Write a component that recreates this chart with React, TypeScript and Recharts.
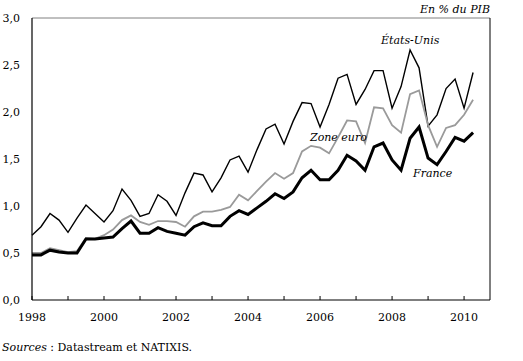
import { Line, LineChart, ReferenceLine, XAxis, YAxis } from "recharts";

const quarters = Array.from({ length: 50 }, (_, i) => 1998 + i / 4);

const etatsUnis = [
  0.69, 0.78, 0.92, 0.85, 0.72, 0.87, 1.01, 0.92, 0.83, 0.95,
  1.18, 1.06, 0.89, 0.92, 1.12, 1.05, 0.9, 1.14, 1.35, 1.33,
  1.15, 1.3, 1.49, 1.53, 1.36, 1.6, 1.82, 1.87, 1.66, 1.9,
  2.1, 2.09, 1.84, 2.08, 2.36, 2.4, 2.08, 2.24, 2.44, 2.44,
  2.04, 2.27, 2.66, 2.47, 1.85, 1.97, 2.25, 2.35, 2.04, 2.42,
];

const zoneEuro = [
  0.5, 0.5, 0.55, 0.53, 0.51, 0.52, 0.66, 0.65, 0.69, 0.75,
  0.85, 0.9, 0.83, 0.8, 0.84, 0.84, 0.83, 0.78, 0.89, 0.94,
  0.94, 0.96, 0.99, 1.12, 1.06, 1.16, 1.26, 1.35, 1.29, 1.35,
  1.58, 1.64, 1.62, 1.56, 1.73, 1.91, 1.9, 1.67, 2.05, 2.04,
  1.86, 1.78, 2.19, 2.23, 1.86, 1.63, 1.83, 1.86, 1.97, 2.13,
];

const france = [
  0.48, 0.48, 0.53, 0.51, 0.5, 0.5, 0.65, 0.65, 0.66, 0.67,
  0.76, 0.84, 0.71, 0.71, 0.77, 0.73, 0.71, 0.69, 0.78, 0.82,
  0.79, 0.79, 0.89, 0.95, 0.91, 0.98, 1.05, 1.13, 1.08, 1.15,
  1.3, 1.38, 1.28, 1.28, 1.38, 1.54, 1.48, 1.38, 1.63, 1.67,
  1.49, 1.38, 1.72, 1.84, 1.51, 1.44, 1.58, 1.73, 1.69, 1.78,
];

const yearTicks = [1998, 1999, 2000, 2001, 2002, 2003, 2004, 2005, 2006, 2007, 2008, 2009, 2010];
const yTicks = [0, 0.5, 1, 1.5, 2, 2.5, 3];
const xMax = 2010.72;

const data = quarters.map((q, i) => ({
  q,
  us: etatsUnis[i],
  euro: zoneEuro[i],
  fr: france[i],
}));

const font = "DejaVu Serif";

const italic = {
  position: "absolute" as const,
  fontFamily: font,
  fontStyle: "italic",
  fontSize: 11,
  color: "#000",
  whiteSpace: "nowrap" as const,
  lineHeight: 1,
};

export default function App() {
  return (
    <div
      style={{
        position: "absolute",
        left: 0,
        top: 0,
        width: 523,
        height: 361,
        background: "#fff",
        fontFamily: font,
      }}
    >
      <LineChart
        data={data}
        height={361}
        margin={{ bottom: 0, left: 0, right: 33, top: 18 }}
        style={{ fontFamily: font }}
        width={523}
      >
        <XAxis
          axisLine={{ stroke: "#000", strokeWidth: 1.2 }}
          dataKey="q"
          domain={[1998, xMax]}
          height={61}
          tick={{ fill: "#000", fontFamily: font, fontSize: 11 }}
          tickFormatter={(v) => (Number(v) % 2 === 0 ? String(v) : "")}
          tickLine={false}
          tickMargin={7}
          ticks={yearTicks}
          type="number"
          xAxisId="x"
        />
        <XAxis
          axisLine={false}
          dataKey="q"
          domain={[1998, xMax]}
          mirror
          tickFormatter={() => ""}
          tickLine={{ stroke: "#000", strokeWidth: 1 }}
          tickSize={4}
          ticks={yearTicks}
          type="number"
          xAxisId="marks"
        />
        <YAxis
          axisLine={{ stroke: "#000", strokeWidth: 1.2 }}
          domain={[0, 3]}
          tick={{ fill: "#000", fontFamily: font, fontSize: 11 }}
          tickFormatter={(v) => Number(v).toFixed(1).replace(".", ",")}
          tickLine={false}
          tickMargin={6}
          ticks={yTicks}
          type="number"
          width={32}
          yAxisId="y"
        />
        <YAxis
          axisLine={false}
          domain={[0, 3]}
          mirror
          tickFormatter={() => ""}
          tickLine={{ stroke: "#000", strokeWidth: 1 }}
          tickSize={4}
          ticks={yTicks}
          type="number"
          yAxisId="ymarks"
        />
        <ReferenceLine stroke="#808080" strokeWidth={1} xAxisId="x" y={3} yAxisId="y" />
        <ReferenceLine stroke="#000" strokeWidth={1} x={xMax} xAxisId="x" yAxisId="y" />
        <Line
          dataKey="us"
          dot={false}
          isAnimationActive={false}
          stroke="#000"
          strokeWidth={1.4}
          type="linear"
          xAxisId="x"
          yAxisId="y"
        />
        <Line
          dataKey="euro"
          dot={false}
          isAnimationActive={false}
          stroke="#9a9a9a"
          strokeWidth={1.8}
          type="linear"
          xAxisId="x"
          yAxisId="y"
        />
        <Line
          dataKey="fr"
          dot={false}
          isAnimationActive={false}
          stroke="#000"
          strokeWidth={3}
          type="linear"
          xAxisId="x"
          yAxisId="y"
        />
      </LineChart>
      <div style={{ ...italic, right: 33, top: 4 }}>En % du PIB</div>
      <div style={{ ...italic, left: 381, top: 35 }}>États-Unis</div>
      <div style={{ ...italic, left: 310, top: 132 }}>Zone euro</div>
      <div style={{ ...italic, left: 413, top: 168 }}>France</div>
      <div
        style={{
          position: "absolute",
          left: 2,
          top: 342,
          fontSize: 11,
          whiteSpace: "nowrap",
          lineHeight: 1,
        }}
      >
        <i>Sources</i> : Datastream et NATIXIS.
      </div>
    </div>
  );
}
